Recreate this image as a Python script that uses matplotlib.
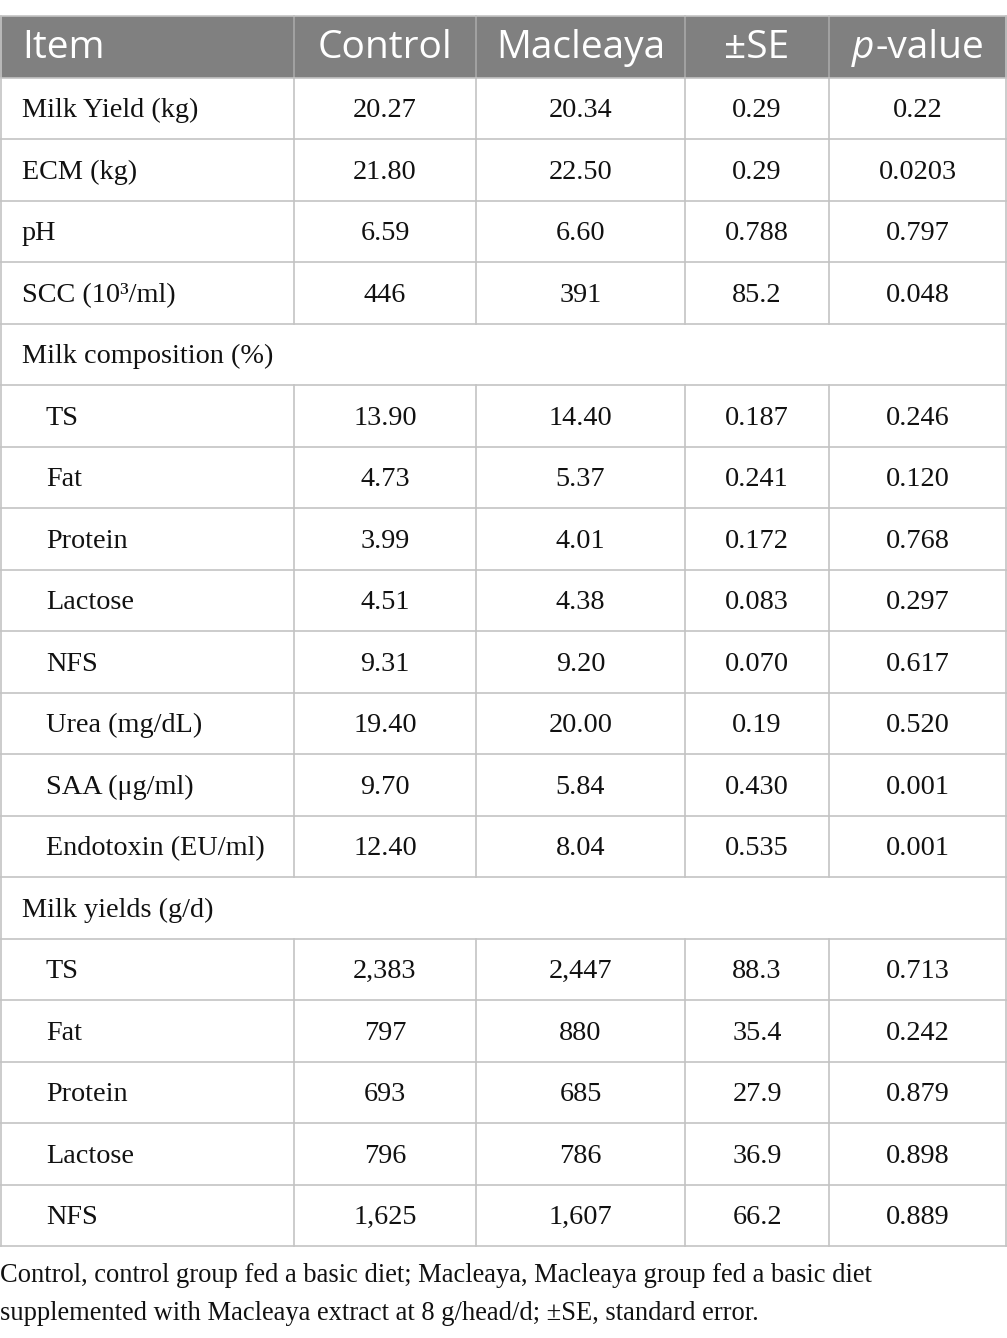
import matplotlib.pyplot as plt
from matplotlib.patches import Rectangle

# table data
header = ["Item", "Control", "Macleaya", "±SE", "-value"]
items = ["Milk Yield (kg)", "ECM (kg)", "pH", "SCC (10³/ml)", "Milk composition (%)",
         "TS", "Fat", "Protein", "Lactose", "NFS", "Urea (mg/dL)", "SAA (μg/ml)",
         "Endotoxin (EU/ml)", "Milk yields (g/d)", "TS", "Fat", "Protein", "Lactose", "NFS"]
indent = [0, 0, 0, 0, 0, 1, 1, 1, 1, 1, 1, 1, 1, 0, 1, 1, 1, 1, 1]
section = [0, 0, 0, 0, 1, 0, 0, 0, 0, 0, 0, 0, 0, 1, 0, 0, 0, 0, 0]
control = ["20.27", "21.80", "6.59", "446", "", "13.90", "4.73", "3.99", "4.51", "9.31",
           "19.40", "9.70", "12.40", "", "2,383", "797", "693", "796", "1,625"]
macleaya = ["20.34", "22.50", "6.60", "391", "", "14.40", "5.37", "4.01", "4.38", "9.20",
            "20.00", "5.84", "8.04", "", "2,447", "880", "685", "786", "1,607"]
se = ["0.29", "0.29", "0.788", "85.2", "", "0.187", "0.241", "0.172", "0.083", "0.070",
      "0.19", "0.430", "0.535", "", "88.3", "35.4", "27.9", "36.9", "66.2"]
pval = ["0.22", "0.0203", "0.797", "0.048", "", "0.246", "0.120", "0.768", "0.297", "0.617",
        "0.520", "0.001", "0.001", "", "0.713", "0.242", "0.879", "0.898", "0.889"]
footnote = ["Control, control group fed a basic diet; Macleaya, Macleaya group fed a basic diet",
            "supplemented with Macleaya extract at 8 g/head/d; ±SE, standard error."]

W, H = 1007, 1338
fig = plt.figure(figsize=(W / 100, H / 100), dpi=100)
ax = fig.add_axes([0, 0, 1, 1])
ax.set_xlim(0, W)
ax.set_ylim(H, 0)
ax.axis("off")

cols = [0, 294, 476, 685, 829, 1006]
top = 16
rh = 61.5
line_c = "#c4c4c4"
txt_c = "#111111"
serif = "Liberation Serif"
sans = "Open Sans"
body_fs = 20.3
head_fs = 28

# header band
ax.add_patch(Rectangle((0, top), W, rh, facecolor="#808080", edgecolor="none"))
hy = top + rh / 2 + 1
ax.text(22, hy, header[0], ha="left", va="center", color="white", fontsize=head_fs,
        family=sans)
for j in range(1, 4):
    ax.text((cols[j] + cols[j + 1]) / 2, hy, header[j], ha="center", va="center",
            color="white", fontsize=head_fs, family=sans)

# p-value header: italic p + "-value", centred together
t_val = ax.text(0, hy, header[4], ha="left", va="center", color="white",
                fontsize=head_fs, family=sans)
t_p = ax.text(0, hy, "p", ha="left", va="center", color="white",
              fontsize=head_fs, family=sans, style="italic")
fig.canvas.draw()
r = fig.canvas.get_renderer()
wp = t_p.get_window_extent(r).width
wv = t_val.get_window_extent(r).width
cx = (cols[4] + cols[5]) / 2
x0 = cx - (wp + wv) / 2
t_p.set_x(x0)
t_val.set_x(x0 + wp + 1)

# body rows
n = len(items)
for i in range(n):
    y0 = top + rh * (i + 1)
    yc = y0 + rh / 2 + 2.5
    ax.text(22 + 24 * indent[i], yc, items[i], ha="left", va="center",
            fontsize=body_fs, family=serif, color=txt_c)
    if not section[i]:
        for j, vals in enumerate([control, macleaya, se, pval]):
            ax.text((cols[j + 1] + cols[j + 2]) / 2, yc, vals[i], ha="center",
                    va="center", fontsize=body_fs, family=serif, color=txt_c)
    # horizontal line under row
    ax.plot([0, W], [y0 + rh, y0 + rh], color=line_c, lw=1.2)
    # vertical lines
    if not section[i]:
        for x in cols[1:-1]:
            ax.plot([x, x], [y0, y0 + rh], color=line_c, lw=1.2)

# header separators and outer border
for x in cols[1:-1]:
    ax.plot([x, x], [top, top + rh], color="#a8a8a8", lw=1.2)
ax.plot([0, W], [top, top], color=line_c, lw=1.2)
ax.plot([0, W], [top + rh, top + rh], color=line_c, lw=1.2)
bottom = top + rh * (n + 1)
ax.plot([0.7, 0.7], [top, bottom], color=line_c, lw=1.2)
ax.plot([W - 1, W - 1], [top, bottom], color=line_c, lw=1.2)

# footnote
ax.text(0, 1276, footnote[0], ha="left", va="center", fontsize=19.1,
        family=serif, color=txt_c)
ax.text(0, 1314, footnote[1], ha="left", va="center", fontsize=19.1,
        family=serif, color=txt_c)

fig.savefig("out.png", dpi=100, facecolor="white")
